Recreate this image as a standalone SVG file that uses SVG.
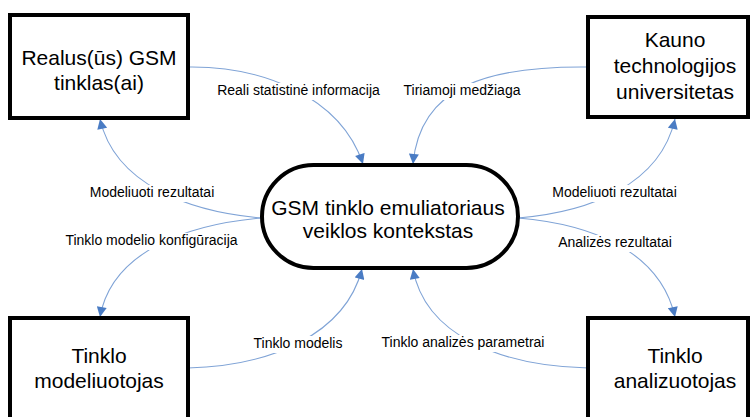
<svg xmlns="http://www.w3.org/2000/svg" width="752" height="417" viewBox="0 0 752 417">
  <style>
    .box { fill: #ffffff; stroke: #000000; stroke-width: 4; }
    .big { font-family: "Liberation Sans", Arial, sans-serif; font-size: 21px; fill: #000000; text-anchor: middle; }
    .lbl { font-family: "Liberation Sans", Arial, sans-serif; font-size: 14px; fill: #000000; text-anchor: middle; }
    .lblbg { fill: #ffffff; stroke: none; }
    .flow { fill: none; stroke: #7fa3d6; stroke-width: 1.1; marker-end: url(#arrow); }
  </style>
  <defs>
    <marker id="arrow" viewBox="0 0 10 10" refX="10" refY="5" markerWidth="11" markerHeight="10" markerUnits="userSpaceOnUse" orient="auto">
      <path d="M0,0 L10,5 L0,10 Z" fill="#4a7cc4"/>
    </marker>
  </defs>

  <rect width="752" height="417" fill="#ffffff"/>

  <!-- connectors, each label sits on a white patch over its curve -->
  <g id="connectors">
    <path class="flow" d="M188,67 C260,66 340,95 363,164"/>
    <path class="flow" d="M588,67 C490,66 420,85 413,164"/>
    <path class="flow" d="M262,218 C190,212 115,185 100,119"/>
    <path class="flow" d="M262,218 C190,224 112,250 100,317"/>
    <path class="flow" d="M518,218 C590,212 660,185 675,119"/>
    <path class="flow" d="M518,218 C590,224 660,250 675,317"/>
    <path class="flow" d="M188,368 C270,366 345,335 362,269"/>
    <path class="flow" d="M588,368 C500,366 425,335 413,269"/>

    <rect class="lblbg" x="212" y="83" width="174" height="17"/>
    <text class="lbl" x="298.5" y="95">Reali statistinė informacija</text>
    <rect class="lblbg" x="399" y="83" width="126" height="17"/>
    <text class="lbl" x="462" y="95">Tiriamoji medžiaga</text>

    <rect class="lblbg" x="84" y="185" width="136" height="17"/>
    <text class="lbl" x="152" y="197">Modeliuoti rezultatai</text>
    <rect class="lblbg" x="60" y="233" width="184" height="17"/>
    <text class="lbl" x="151.5" y="245">Tinklo modelio konfigūracija</text>

    <rect class="lblbg" x="547" y="185" width="136" height="17"/>
    <text class="lbl" x="614.5" y="197">Modeliuoti rezultatai</text>
    <rect class="lblbg" x="553" y="235" width="124" height="17"/>
    <text class="lbl" x="615" y="247">Analizės rezultatai</text>

    <rect class="lblbg" x="248" y="336" width="100" height="17"/>
    <text class="lbl" x="298" y="348">Tinklo modelis</text>
    <rect class="lblbg" x="375" y="335" width="176" height="17"/>
    <text class="lbl" x="463" y="347">Tinklo analizės parametrai</text>
  </g>

  <g id="gsm-networks">
    <rect class="box" x="10" y="15" width="178" height="103"/>
    <text class="big" x="99" y="65">Realus(ūs) GSM</text>
    <text class="big" x="99" y="90">tinklas(ai)</text>
  </g>

  <g id="ktu">
    <rect class="box" x="588" y="17" width="160" height="100"/>
    <text class="big" x="675" y="47">Kauno</text>
    <text class="big" x="675" y="73">technologijos</text>
    <text class="big" x="675" y="99">universitetas</text>
  </g>

  <g id="context">
    <rect class="box" x="262" y="165" width="256" height="103" rx="51.5" ry="51.5"/>
    <text class="big" x="388" y="215">GSM tinklo emuliatoriaus</text>
    <text class="big" x="388" y="238">veiklos kontekstas</text>
  </g>

  <g id="modeler">
    <rect class="box" x="10" y="318" width="178" height="110"/>
    <text class="big" x="99" y="363">Tinklo</text>
    <text class="big" x="99" y="388">modeliuotojas</text>
  </g>

  <g id="analyzer">
    <rect class="box" x="588" y="318" width="160" height="110"/>
    <text class="big" x="675" y="363">Tinklo</text>
    <text class="big" x="675" y="388">analizuotojas</text>
  </g>
</svg>
